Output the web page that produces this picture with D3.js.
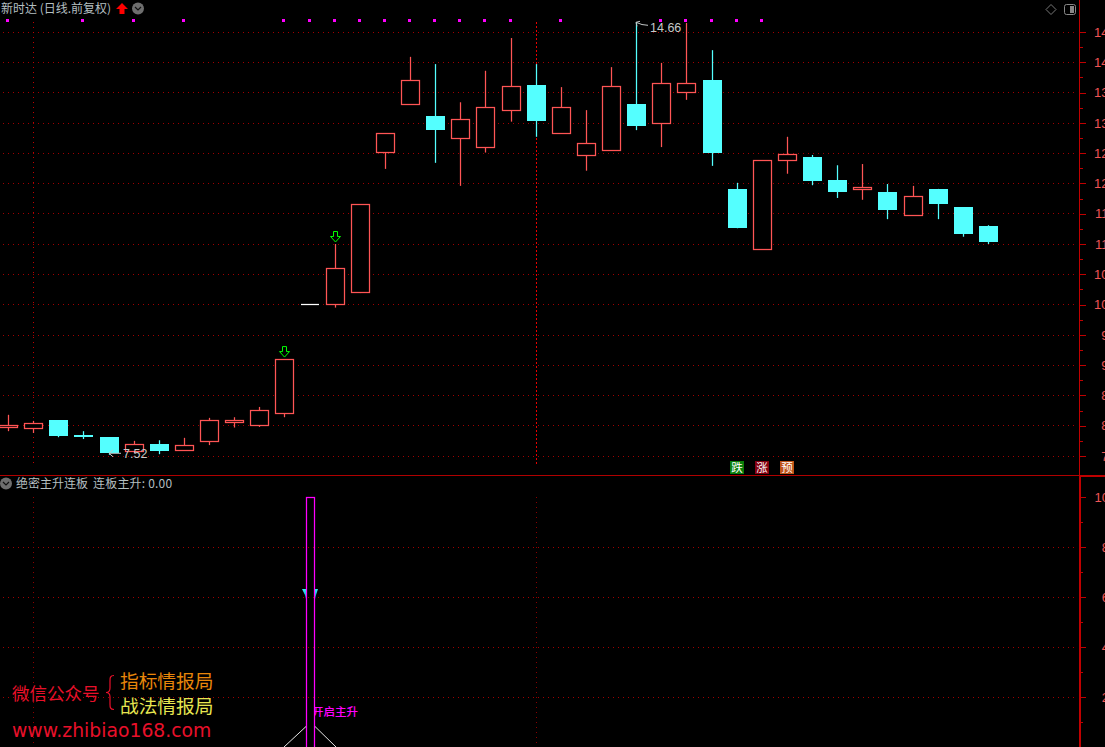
<!DOCTYPE html>
<html lang="zh">
<head>
    <meta charset="utf-8">
    <title>新时达 日线</title>
    <script src="https://cdn.jsdelivr.net/npm/d3@7"></script>
    <style>
        html, body {margin: 0; padding: 0; background: #000; overflow: hidden;}
        svg {display: block;}
        text {font-family: "Noto Sans CJK SC", sans-serif;}
        text.num {font-family: "Liberation Sans", sans-serif;}
        .grid {stroke: #a00000; stroke-width: 1; stroke-dasharray: 1 4; shape-rendering: crispEdges;}
        .vgrid {stroke: #c00000; stroke-width: 1; stroke-dasharray: 1 4; shape-rendering: crispEdges;}
        .vgrid.lower {stroke: #8a0000;}
        .vgrid.focus {stroke: #e80000; stroke-dasharray: 2 2;}
        .axis text {font-family: "Liberation Sans", sans-serif; font-size: 13px; fill: #f05555; text-anchor: end;}
        .axis line, .axis path {stroke: #c00000; shape-rendering: crispEdges;}
        .header {font-size: 12px; fill: #b4bfc0;}
    </style>
</head>
<body>
<script>
    // daily bars, index 0 is the leftmost one
    const open  = [7.97, 7.95, 8.09, 7.85, 7.81, 7.57, 7.70, 7.59, 7.74, 8.05, 8.00, 8.20, 10.00, 10.00, 10.21, 12.51, 13.30, 13.11, 12.74, 12.59, 13.20, 13.63, 12.82, 12.46, 12.54, 13.31, 13.00, 13.51, 13.71, 11.91, 10.91, 12.39, 12.44, 12.06, 11.90, 11.86, 11.47, 11.91, 11.61, 11.30];
    const close = [8.00, 8.04, 7.83, 7.81, 7.55, 7.70, 7.58, 7.68, 8.09, 8.09, 8.25, 9.10, 10.00, 10.60, 11.66, 12.83, 13.70, 12.88, 13.06, 13.26, 13.60, 13.03, 13.26, 12.66, 13.60, 12.95, 13.65, 13.65, 12.50, 11.26, 12.38, 12.48, 12.04, 11.86, 11.94, 11.56, 11.79, 11.66, 11.17, 11.03];
    const high  = [8.18, 8.08, 8.09, 7.91, 7.81, 7.75, 7.76, 7.80, 8.13, 8.14, 8.31, 9.10, 10.00, 11.00, 11.66, 12.83, 14.09, 13.97, 13.34, 13.86, 14.40, 13.97, 13.59, 13.21, 13.92, 14.66, 13.99, 14.65, 14.20, 12.01, 12.38, 12.77, 12.47, 12.30, 12.32, 11.99, 11.96, 11.91, 11.61, 11.31];
    const low   = [7.91, 7.88, 7.81, 7.78, 7.52, 7.55, 7.53, 7.59, 7.68, 7.97, 7.98, 8.14, 10.00, 9.95, 10.19, 12.24, 13.30, 12.34, 11.96, 12.51, 13.02, 12.77, 12.82, 12.21, 12.54, 12.88, 12.60, 13.38, 12.29, 11.26, 10.91, 12.16, 11.97, 11.76, 11.73, 11.41, 11.47, 11.41, 11.12, 11.00];

    const markerIdx = [0, 3, 5, 7, 11, 12, 13, 14, 15, 16, 17, 18, 19, 20, 22, 26, 27, 28, 29, 30];
    const markerLevel = 14.7;
    const arrowIdx = [11, 13];
    const vGridIdx = [1, 21];
    const focusIdx = 21;

    const priceTicks = [14.5, 14, 13.5, 13, 12.5, 12, 11.5, 11, 10.5, 10, 9.5, 9, 8.5, 8, 7.5];
    const priceMinor = [14.25, 13.75, 13.25, 12.75, 12.25, 11.75, 11.25, 10.75, 10.25, 9.75, 9.25, 8.75, 8.25, 7.75];
    const indTicks = [10, 8, 6, 4, 2];
    const indMinor = [9, 7, 5, 3, 1];
    const indGrid = [8, 6, 4, 2];

    const signalIdx = 12;
    const signalValue = 10;
    const coneValue = 0.8;
    const triangleValue = 6.2;

    const maxLabel = {idx: 25, value: 14.66};
    const minLabel = {idx: 4, value: 7.52};
    const badges = ["跌", "涨", "预"];
    const badgeIdx = [29, 30, 31];
    const badgeColors = ["#0a7d0a", "#840010", "#bf5418"];

    const dim = {width: 1105, height: 747, axisX: 1079, split: 475};
    const scale = {
        x: d3.scaleLinear().domain([0, 39]).range([8, 988]),
        price: d3.scaleLinear().domain([7.5, 14.5]).range([456, 32]),
        ind: d3.scaleLinear().domain([0, 10]).range([747, 497])
    };
    const cx = i => Math.round(scale.x(i));
    const snap = v => Math.round(v - 0.3) + 0.5;

    const svg = d3.select("body").append("svg")
        .attr("width", dim.width)
        .attr("height", dim.height)
        .style("background", "#000");

    // GRID
    svg.append("g").selectAll("line").data(priceTicks).join("line")
        .attr("class", "grid")
        .attr("x1", 3).attr("x2", dim.axisX - 3)
        .attr("y1", d => snap(scale.price(d))).attr("y2", d => snap(scale.price(d)));
    svg.append("g").selectAll("line").data(indGrid).join("line")
        .attr("class", "grid")
        .attr("x1", 3).attr("x2", dim.axisX - 3)
        .attr("y1", d => snap(scale.ind(d))).attr("y2", d => snap(scale.ind(d)));
    vGridIdx.forEach(i => {
        svg.append("line").attr("class", i === focusIdx ? "vgrid focus" : "vgrid")
            .attr("x1", cx(i) + 0.5).attr("x2", cx(i) + 0.5)
            .attr("y1", 22).attr("y2", 464);
        svg.append("line").attr("class", "vgrid lower")
            .attr("x1", cx(i) + 0.5).attr("x2", cx(i) + 0.5)
            .attr("y1", 497).attr("y2", 747);
    });

    // CANDLES
    const red = "#ff5555", cyan = "#54ffff";
    const bars = d3.range(open.length).map(i => ({i, o: open[i], c: close[i], h: high[i], l: low[i]}));
    const isFlat = d => d.h === d.l;
    const barColor = d => d.c >= d.o ? red : cyan;

    const barG = svg.append("g");
    barG.selectAll("line.wick").data(bars.filter(d => !isFlat(d))).join("line")
        .attr("class", "wick")
        .attr("x1", d => cx(d.i) + 0.5).attr("x2", d => cx(d.i) + 0.5)
        .attr("y1", d => scale.price(d.h)).attr("y2", d => scale.price(d.l))
        .attr("stroke", barColor).attr("stroke-width", 1.25);
    barG.selectAll("rect.up").data(bars.filter(d => !isFlat(d) && d.c >= d.o)).join("rect")
        .attr("class", "up")
        .attr("x", d => cx(d.i) - 8.5).attr("width", 18)
        .attr("y", d => snap(scale.price(d.c)))
        .attr("height", d => snap(scale.price(d.o)) - snap(scale.price(d.c)))
        .attr("fill", "#000").attr("stroke", red).attr("stroke-width", 1.25);
    barG.selectAll("rect.down").data(bars.filter(d => d.c < d.o)).join("rect")
        .attr("class", "down")
        .attr("x", d => cx(d.i) - 9).attr("width", 19)
        .attr("y", d => Math.round(scale.price(d.o)))
        .attr("height", d => Math.round(scale.price(d.c)) - Math.round(scale.price(d.o)))
        .attr("fill", cyan);
    barG.selectAll("line.flat").data(bars.filter(isFlat)).join("line")
        .attr("class", "flat")
        .attr("x1", d => cx(d.i) - 9).attr("x2", d => cx(d.i) + 9)
        .attr("y1", d => snap(scale.price(d.c))).attr("y2", d => snap(scale.price(d.c)))
        .attr("stroke", "#fff").attr("stroke-width", 1.25);

    // top markers
    svg.append("g").selectAll("rect").data(markerIdx).join("rect")
        .attr("x", d => cx(d) - 2).attr("y", Math.round(scale.price(markerLevel)) - 1)
        .attr("width", 3).attr("height", 3)
        .attr("fill", "#ff00ff");

    // green arrows sit above the high of the bar
    svg.append("g").selectAll("path").data(arrowIdx).join("path")
        .attr("transform", d => `translate(${cx(d) + 0.5},${scale.price(high[d]) - 7.5})`)
        .attr("d", "M-2,-5H2V0H5L0,5.5L-5,0H-2Z")
        .attr("fill", "none").attr("stroke", "#00ff00");

    // high and low labels
    const gray = "#c4c8c8";
    const low0 = scale.price(minLabel.value), high0 = scale.price(maxLabel.value);
    svg.append("path")
        .attr("d", `M${cx(minLabel.idx) + 12},${low0 - 1.5}H${cx(minLabel.idx)}M${cx(minLabel.idx) + 4},${low0 - 5}L${cx(minLabel.idx)},${low0 - 1.5}L${cx(minLabel.idx) + 4},${low0 + 2}`)
        .attr("fill", "none").attr("stroke", gray);
    svg.append("text").attr("class", "num")
        .attr("x", cx(minLabel.idx) + 14).attr("y", low0 + 3)
        .attr("font-size", 12.5).attr("fill", gray)
        .text(minLabel.value.toFixed(2));
    svg.append("path")
        .attr("d", `M${cx(maxLabel.idx) + 12},${high0 + 3}Q${cx(maxLabel.idx) + 6},${high0 + 3} ${cx(maxLabel.idx)},${high0}M${cx(maxLabel.idx) + 4},${high0 - 1}L${cx(maxLabel.idx)},${high0}L${cx(maxLabel.idx) + 1},${high0 + 4}`)
        .attr("fill", "none").attr("stroke", gray);
    svg.append("text").attr("class", "num")
        .attr("x", cx(maxLabel.idx) + 14).attr("y", high0 + 10)
        .attr("font-size", 12.5).attr("fill", gray)
        .text(maxLabel.value.toFixed(2));

    // badges
    const badgeG = svg.append("g").selectAll("g").data(badges).join("g")
        .attr("transform", (d, i) => `translate(${cx(badgeIdx[i]) - 7},461)`);
    badgeG.append("rect")
        .attr("width", 14).attr("height", 13)
        .attr("fill", (d, i) => badgeColors[i]);
    badgeG.append("text")
        .attr("x", 7).attr("y", 11).attr("text-anchor", "middle")
        .attr("font-size", 11.5).attr("fill", "#fff")
        .text(d => d);

    // SEPARATOR AND AXES
    svg.append("line")
        .attr("x1", 0).attr("x2", dim.axisX).attr("y1", dim.split + 0.5).attr("y2", dim.split + 0.5)
        .attr("stroke", "#b00000").style("shape-rendering", "crispEdges");
    svg.append("rect")
        .attr("x", dim.axisX + 1).attr("y", dim.split).attr("width", 26).attr("height", 2)
        .attr("fill", "#c00000");

    const priceAxis = d3.axisRight(scale.price).tickValues(priceTicks).tickFormat(d3.format(".2f")).tickSize(6);
    const priceMinorAxis = d3.axisRight(scale.price).tickValues(priceMinor).tickFormat("").tickSize(3);
    const indAxis = d3.axisRight(scale.ind).tickValues(indTicks).tickFormat(d3.format(".2f")).tickSize(6);
    const indMinorAxis = d3.axisRight(scale.ind).tickValues(indMinor).tickFormat("").tickSize(3);

    svg.append("g").attr("class", "axis").attr("transform", `translate(${dim.axisX + 0.5},0)`).call(priceAxis);
    svg.append("g").attr("class", "axis").attr("transform", `translate(${dim.axisX + 0.5},0)`).call(priceMinorAxis);
    svg.append("g").attr("class", "axis").attr("transform", `translate(${dim.axisX + 1},0)`).call(indAxis);
    svg.append("g").attr("class", "axis").attr("transform", `translate(${dim.axisX + 1},0)`).call(indMinorAxis);
    svg.selectAll(".axis .domain").remove();
    // the labels run past the window edge, as they do in the terminal
    svg.selectAll(".axis text").attr("x", 47);
    svg.append("line").attr("x1", dim.axisX + 0.5).attr("x2", dim.axisX + 0.5).attr("y1", 0).attr("y2", dim.split)
        .attr("stroke", "#c00000").style("shape-rendering", "crispEdges");
    svg.append("rect").attr("x", dim.axisX).attr("y", dim.split).attr("width", 2).attr("height", dim.height - dim.split)
        .attr("fill", "#c00000");

    // LOWER PANEL
    const sx = cx(signalIdx);
    svg.append("rect")
        .attr("x", sx - 3.5).attr("width", 8)
        .attr("y", scale.ind(signalValue) + 0.5)
        .attr("height", scale.ind(0) - scale.ind(signalValue) + 5)
        .attr("fill", "none").attr("stroke", "#ff00ff").attr("stroke-width", 1.25);

    const triY = scale.ind(triangleValue);
    const triGrad = svg.append("defs").append("linearGradient").attr("id", "tri").attr("x1", 0).attr("x2", 0).attr("y1", 0).attr("y2", 1);
    triGrad.append("stop").attr("offset", "0%").attr("stop-color", "#30e8f0");
    triGrad.append("stop").attr("offset", "100%").attr("stop-color", "#2090e0");
    svg.append("path")
        .attr("d", `M${sx - 8},${triY - 3}H${sx - 4}V${triY + 7}L${sx - 5},${triY + 3}Z M${sx + 5},${triY - 3}H${sx + 8}L${sx + 6},${triY + 3}L${sx + 5},${triY + 7}Z`)
        .attr("fill", "url(#tri)");

    const coneY = scale.ind(coneValue);
    svg.append("path")
        .attr("d", `M${sx - 4},${coneY - 0.5}L${sx - 26},${scale.ind(0)}M${sx + 5},${coneY - 0.5}L${sx + 26},${scale.ind(0)}`)
        .attr("fill", "none").attr("stroke", "#fff").attr("stroke-width", 0.9);

    svg.append("clipPath").attr("id", "signalClip")
        .append("rect").attr("x", sx + 5).attr("y", 690).attr("width", 80).attr("height", 40);
    svg.append("text")
        .attr("x", sx + 2).attr("y", 716)
        .attr("clip-path", "url(#signalClip)")
        .attr("font-size", 11.5).attr("font-weight", 500).attr("fill", "#ff00ff")
        .text("开启主升");

    // HEADERS
    svg.append("text").attr("class", "header").attr("x", 1).attr("y", 13).text("新时达 (日线.前复权)");
    svg.append("path").attr("d", "M122,3L128,9H124.5V14H119.5V9H116Z").attr("fill", "#ff0000");

    const chevron = (x, y) => {
        svg.append("circle").attr("cx", x).attr("cy", y).attr("r", 6).attr("fill", "#6e6e6e");
        svg.append("path").attr("d", `M${x - 3},${y - 1.5}L${x},${y + 1.5}L${x + 3},${y - 1.5}`)
            .attr("fill", "none").attr("stroke", "#111").attr("stroke-width", 1.2);
    };
    chevron(138, 8.5);
    chevron(6, 483.5);

    svg.append("text").attr("class", "header").attr("x", 16).attr("y", 488).text("绝密主升连板");
    svg.append("text").attr("class", "header").attr("x", 93).attr("y", 488).attr("letter-spacing", 0.2).text("连板主升: 0.00");

    svg.append("path").attr("d", "M1051,4.5L1056,9.5L1051,14.5L1046,9.5Z").attr("fill", "none").attr("stroke", "#777");
    svg.append("rect").attr("x", 1064.5).attr("y", 4.5).attr("width", 11).attr("height", 10).attr("rx", 2)
        .attr("fill", "none").attr("stroke", "#888");
    svg.append("rect").attr("x", 1070).attr("y", 6).attr("width", 4).attr("height", 7).attr("fill", "#888");

    // WATERMARK
    svg.append("text").attr("x", 12).attr("y", 700).attr("font-size", 17.5).attr("fill", "#e8102a").text("微信公众号");
    svg.append("path")
        .attr("d", "M114,675.5C110,675.5 110,678 110,681V688C110,691 108,692.5 106,692.5C108,692.5 110,694 110,697V704C110,707 110,709.5 114,709.5")
        .attr("fill", "none").attr("stroke", "#e8102a").attr("stroke-width", 1.2);
    svg.append("text").attr("x", 120).attr("y", 688).attr("font-size", 18.7).attr("fill", "#e8860a").text("指标情报局");
    svg.append("text").attr("x", 120).attr("y", 713).attr("font-size", 18.7).attr("fill", "#e6e650").text("战法情报局");
    svg.append("text").attr("x", 12).attr("y", 737)
        .style("font-family", "'DejaVu Sans', sans-serif")
        .attr("font-size", 18.8).attr("fill", "#e8102a").text("www.zhibiao168.com");
</script>
</body>
</html>
